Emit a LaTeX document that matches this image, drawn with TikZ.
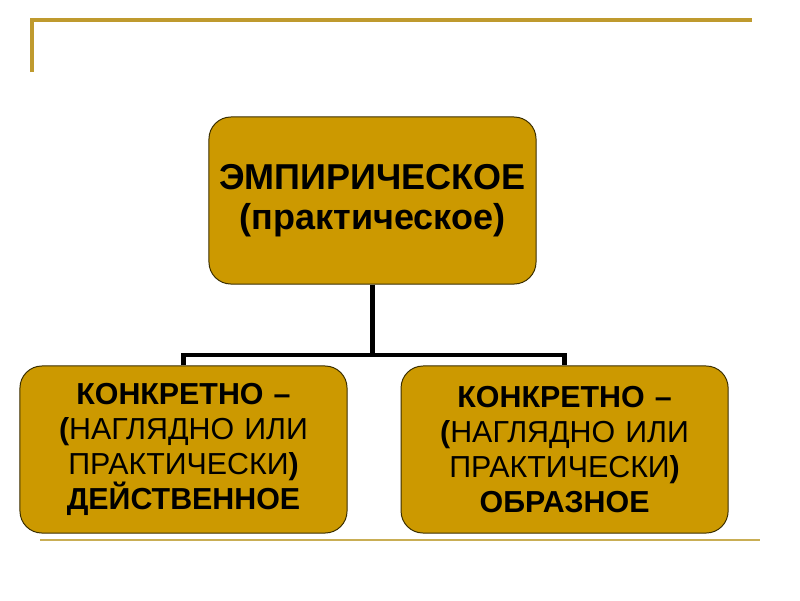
\documentclass[tikz,border=0pt]{standalone}
\usepackage{fontspec}
\setmainfont{Liberation Sans}
\usetikzlibrary{positioning}

\definecolor{boxfill}{HTML}{CC9900}
\definecolor{boxedge}{HTML}{3A2E00}
\definecolor{decoline}{HTML}{BF9A2E}
\definecolor{footline}{HTML}{C9AE55}

\begin{document}
\begin{tikzpicture}[
	x=0.025cm, y=-0.025cm,
	block/.style={rectangle, draw=boxedge, line width=0.7pt, fill=boxfill,
		rounded corners=0.55cm, minimum width=8.175cm, minimum height=4.175cm,
		text width=7.9cm, align=center, inner sep=0pt},
	topfont/.style={font=\fontsize{25.6}{28.5}\selectfont\bfseries},
	subfont/.style={font=\fontsize{21.6}{25}\selectfont},
	line/.style={draw, line width=3.4pt, line join=miter},
	]
	\useasboundingbox (0,0) rectangle (800,600);

	% Rahmenlinien
	\draw[decoline, line width=2.2pt] (32,72) -- (32,20) -- (752,20);
	\draw[footline, line width=1.6pt] (40,540) -- (760,540);

	\node[block, topfont] (emp) at (372.5,200.5) {ЭМПИРИЧЕСКОЕ\\(практическое)};
	\node[block, subfont] (deist) at (183.5,449.5)
		{\textbf{КОНКРЕТНО –}\\\textbf{(}НАГЛЯДНО ИЛИ\hspace*{.3em}\\ПРАКТИЧЕСКИ\textbf{)}\\\textbf{ДЕЙСТВЕННОЕ}};
	\node[block, subfont, right=1.325cm of deist] (obraz)
		{\textbf{КОНКРЕТНО –}\\\textbf{(}НАГЛЯДНО ИЛИ\hspace*{.3em}\\ПРАКТИЧЕСКИ\textbf{)}\\\textbf{ОБРАЗНОЕ}\hspace*{.3em}};
	\coordinate (fork) at (372.5,355);

	%Verbindungslinien
	\path[line] (emp.south) -- (fork);
	\path[line] (deist.north) |- (fork) -| (obraz.north);
\end{tikzpicture}
\end{document}
